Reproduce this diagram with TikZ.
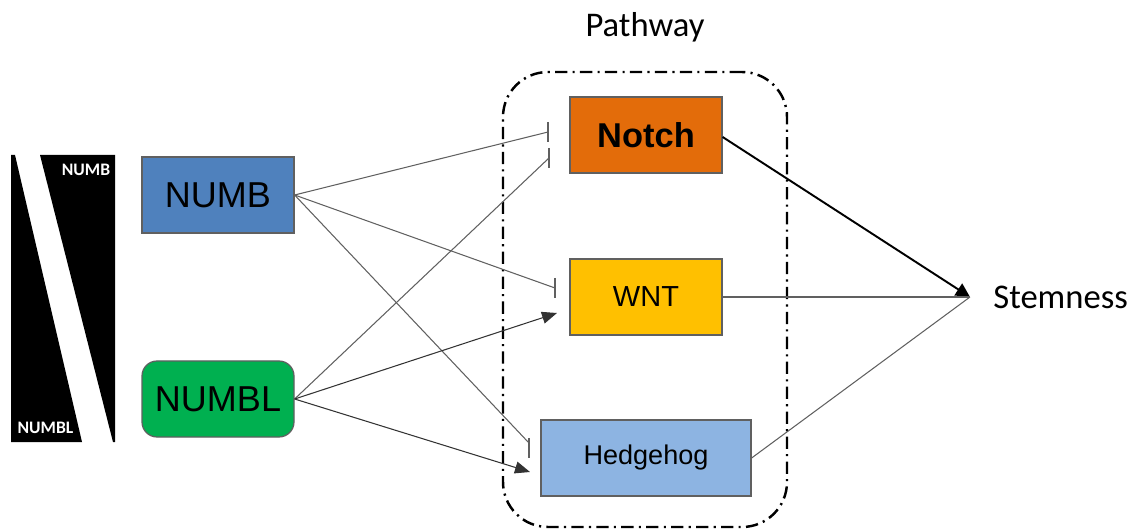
\documentclass[tikz,border=0pt]{standalone}
\usepackage{fontspec}
\setmainfont{Liberation Sans}
\newfontfamily\calib{Carlito}
\usetikzlibrary{arrows.meta}
\definecolor{numbblue}{HTML}{4F81BD}
\definecolor{numblgreen}{HTML}{00B050}
\definecolor{notchorange}{HTML}{E36C0A}
\definecolor{wntyellow}{HTML}{FFC000}
\definecolor{hhblue}{HTML}{8DB4E2}
\definecolor{linkgray}{HTML}{606060}
\begin{document}
\begin{tikzpicture}[
  gene/.style={draw=linkgray, line width=0.7pt, minimum width=3.04cm, minimum height=1.52cm, inner sep=0pt, font=\fontsize{20.5}{24}\selectfont},
  path/.style={draw=linkgray, line width=0.7pt, minimum width=3.04cm, minimum height=1.52cm, inner sep=0pt, font=\fontsize{16.5}{20}\selectfont},
  link/.style={draw=linkgray, line width=0.6pt},
  bar/.style={draw=linkgray, line width=0.8pt},
  activ/.style={link, -{Triangle[length=0.3cm, width=0.24cm]}, draw=black!80}]
\useasboundingbox (0,0) rectangle (22.6,10.62);
\fill (0.22,7.52) -- (0.30,7.52) -- (1.64,1.78) -- (0.22,1.78) -- cycle;
\fill (0.80,7.52) -- (2.30,7.52) -- (2.30,1.78) -- (2.26,1.78) -- cycle;
\node[text=white, font=\calib\bfseries\fontsize{10}{12}\selectfont] (lblnumb) at (1.72,7.22) {NUMB};
\node[text=white, font=\calib\bfseries\fontsize{10}{12}\selectfont] (lblnumbl) at (0.91,2.06) {NUMBL};
\node[draw, line width=1.4pt, dash pattern=on 7pt off 3pt on 1.2pt off 3pt, rounded corners=0.9cm, minimum width=5.68cm, minimum height=9.1cm] (frame) at (12.9,4.63) {};
\node[font=\calib\fontsize{19.7}{23}\selectfont] (pathway) at (12.9,10.08) {Pathway};
\node[gene, fill=numbblue] (numb) at (4.36,6.72) {NUMB};
\node[gene, fill=numblgreen, rounded corners=0.3cm] (numbl) at (4.36,2.64) {NUMBL};
\node[gene, fill=notchorange, font=\fontsize{19.6}{23}\selectfont\bfseries] (notch) at (12.92,7.92) {Notch};
\node[path, fill=wntyellow] (wnt) at (12.92,4.68) {WNT};
\node[path, fill=hhblue, minimum width=4.2cm, font=\fontsize{15.4}{18}\selectfont] (hh) at (12.92,1.46) {Hedgehog};
\coordinate (stem) at (19.4,4.68);
\node[anchor=west, inner sep=0pt, font=\calib\fontsize{19.7}{23}\selectfont] (stemness) at (19.86,4.68) {Stemness};
\coordinate (notchA) at (10.96,7.98);
\coordinate (notchB) at (10.98,7.46);
\coordinate (wntA) at (11.10,4.86);
\coordinate (wntB) at (11.14,4.36);
\coordinate (hhA) at (10.58,1.76);
\coordinate (hhB) at (10.60,1.18);
\draw[link] (numb.east) -- (notchA);
\draw[bar] ([yshift=0.2cm]notchA) -- ([yshift=-0.2cm]notchA);
\draw[link] (numb.east) -- (wntA);
\draw[bar] ([yshift=0.2cm]wntA) -- ([yshift=-0.2cm]wntA);
\draw[link] (numb.east) -- (hhA);
\draw[bar] ([yshift=0.1cm]hhA) -- ([yshift=-0.3cm]hhA);
\draw[link] (numbl.east) -- (notchB);
\draw[bar] ([yshift=0.2cm]notchB) -- ([yshift=-0.2cm]notchB);
\draw[activ] (numbl.east) -- (wntB);
\draw[activ] (numbl.east) -- (hhB);
\draw[black, line width=1.1pt, -{Triangle[length=0.28cm, width=0.28cm]}] ([yshift=-0.04cm]notch.east) -- (stem);
\draw[link] (wnt.east) -- (stem);
\draw[link] (hh.east) -- (stem);
\end{tikzpicture}
\end{document}
